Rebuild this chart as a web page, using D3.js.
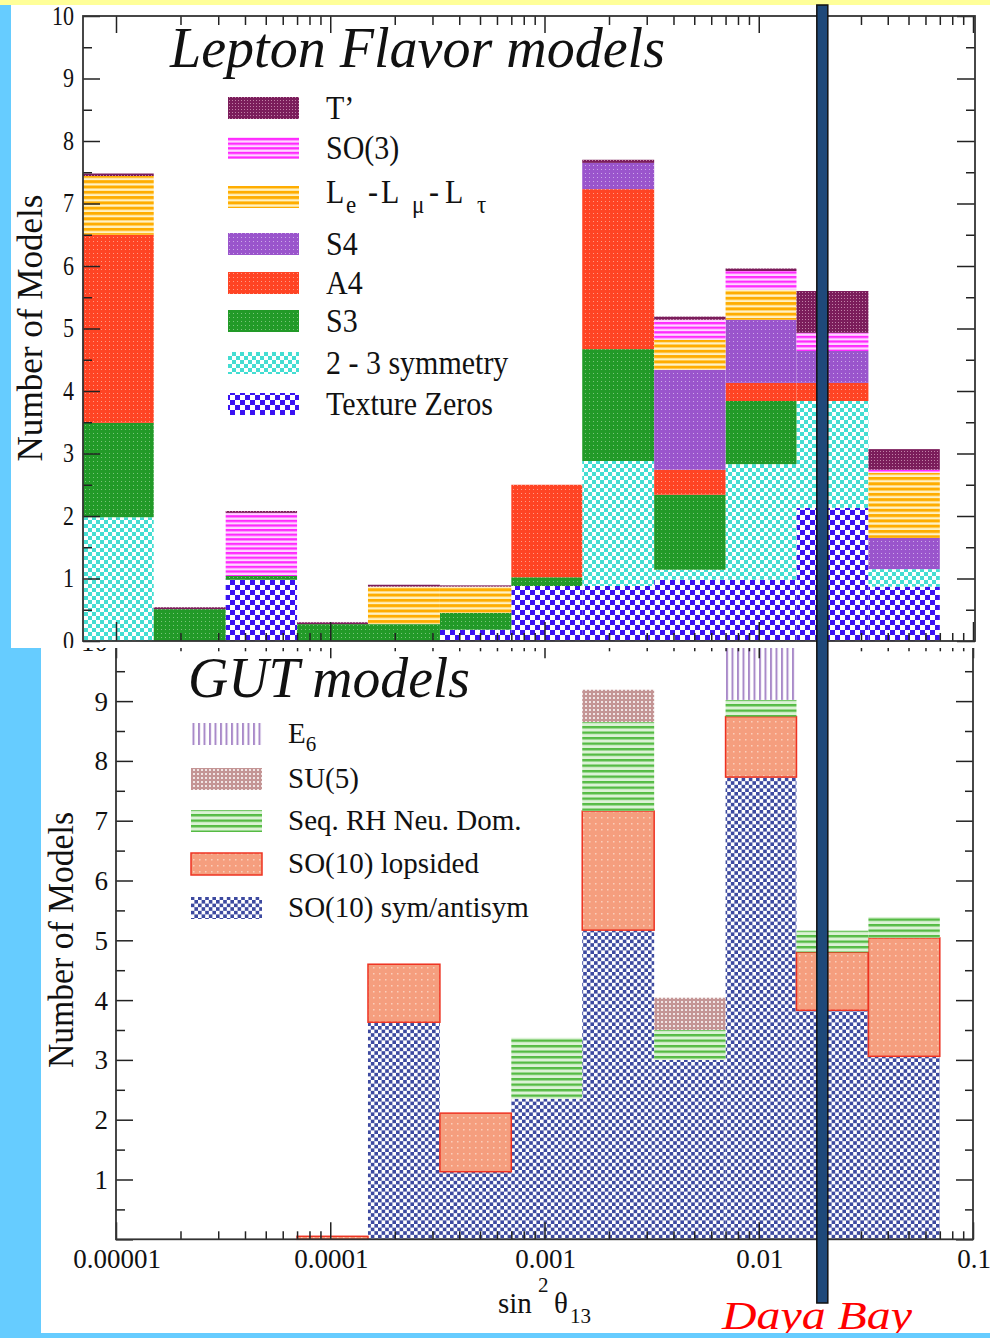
<!DOCTYPE html>
<html>
<head>
<meta charset="utf-8">
<script src="https://cdn.jsdelivr.net/npm/d3@7"></script>
<style>
  body { margin: 0; }
  svg { display: block; }
  text { font-family: "Liberation Serif", "DejaVu Serif", serif; fill: #111; }
</style>
</head>
<body>
<svg id="chart" width="990" height="1338"></svg>
<script>
// histogram bins in sin^2(theta13), a third of a decade each
const binEdges = [7e-6, 1.5e-5, 3.25e-5, 7e-5, 1.5e-4, 3.25e-4, 7e-4, 1.5e-3, 3.25e-3, 7e-3, 1.5e-2, 3.25e-2, 7e-2];

// Lepton flavor models (stacked bottom -> top)
const leptonKeys = ["tz", "sym23", "s3", "a4", "s4", "le", "so3", "tprime"];
const textureZeros = [0, 0, 0.98, 0, 0, 0.18, 0.88, 0.88, 0.98, 0.98, 2.13, 0.87];
const sym23 = [1.98, 0, 0, 0, 0, 0, 0, 2.0, 0.16, 1.85, 1.71, 0.28];
const s3 = [1.51, 0.51, 0.06, 0.27, 0.27, 0.27, 0.14, 1.79, 1.2, 1.01, 0, 0];
const a4 = [3.01, 0, 0, 0, 0, 0, 1.48, 2.56, 0.4, 0.29, 0.29, 0];
const s4 = [0, 0, 0, 0, 0, 0, 0, 0.42, 1.6, 1.01, 0.51, 0.5];
const leLmuLtau = [0.94, 0, 0, 0, 0.6, 0.42, 0, 0, 0.48, 0.48, 0, 1.04];
const so3 = [0, 0, 1.01, 0, 0, 0, 0, 0, 0.32, 0.3, 0.29, 0.05];
const tPrime = [0.04, 0.03, 0.03, 0.03, 0.03, 0.02, 0, 0.05, 0.05, 0.04, 0.67, 0.33];

// GUT models (stacked bottom -> top)
const gutKeys = ["symanti", "lopsided", "seq", "su5", "e6"];
const so10SymAnti = [0, 0, 0, 0, 3.63, 1.13, 2.35, 5.17, 3.0, 7.73, 3.83, 3.06];
const so10Lopsided = [0, 0, 0, 0.05, 0.97, 0.98, 0, 1.99, 0, 1.01, 0.97, 1.98];
const seqRH = [0, 0, 0, 0, 0, 0, 1.02, 1.49, 0.5, 0.28, 0.36, 0.35];
const su5 = [0, 0, 0, 0, 0, 0, 0, 0.54, 0.54, 0, 0, 0];
const e6 = [0, 0, 0, 0, 0, 0, 0, 0, 0, 1.5, 0, 0];

const dayaBay = 0.0198;

const xTickLabels = ["0.00001", "0.0001", "0.001", "0.01", "0.1"];
const xMajor = [1e-5, 1e-4, 1e-3, 1e-2, 1e-1];
const yMajor = [0, 1, 2, 3, 4, 5, 6, 7, 8, 9, 10];
const yMinor = [0.5, 1.5, 2.5, 3.5, 4.5, 5.5, 6.5, 7.5, 8.5, 9.5];

const leptonLegend = ["tprime", "so3", "le", "s4", "a4", "s3", "sym23", "tz"];
const leptonNames = { tprime: "T’", so3: "SO(3)", s4: "S4", a4: "A4", s3: "S3", sym23: "2 - 3 symmetry", tz: "Texture Zeros" };
const gutLegend = ["e6", "su5", "seq", "lopsided", "symanti"];
const gutNames = { su5: "SU(5)", seq: "Seq. RH Neu. Dom.", lopsided: "SO(10) lopsided", symanti: "SO(10) sym/antisym" };

// ---- layout
const svg = d3.select("#chart");
const W = 990, H = 1338;
const topP = { x0: 83, x1: 975, y0: 16, y1: 641 };
const botP = { x0: 116, x1: 973, y0: 641.3, y1: 1239.3 };

const x = d3.scaleLog().domain([1e-5, 1e-1]).range([116, 973]);
const yTop = d3.scaleLinear().domain([0, 10]).range([topP.y1, topP.y0]);
const yBot = d3.scaleLinear().domain([0, 10]).range([botP.y1, botP.y0]);
const xMinor = x.ticks().filter((t) => !xMajor.some((m) => Math.abs(m - t) / m < 1e-6));

// ---- patterns
const defs = svg.append("defs");
const pat = (id, w, h) =>
  defs.append("pattern").attr("id", id).attr("patternUnits", "userSpaceOnUse").attr("width", w).attr("height", h);

function checker(id, c, s) {
  const p = pat(id, 2 * s, 2 * s);
  p.append("rect").attr("width", 2 * s).attr("height", 2 * s).attr("fill", "#fff");
  p.append("rect").attr("width", s).attr("height", s).attr("fill", c);
  p.append("rect").attr("x", s).attr("y", s).attr("width", s).attr("height", s).attr("fill", c);
}
function hstripes(id, c, bg, period, thick) {
  const p = pat(id, 10, period);
  p.append("rect").attr("width", 10).attr("height", period).attr("fill", bg);
  p.append("rect").attr("width", 10).attr("height", thick).attr("fill", c);
}
function vstripes(id, c, period, thick) {
  const p = pat(id, period, 10);
  p.append("rect").attr("width", period).attr("height", 10).attr("fill", "#fff");
  p.append("rect").attr("width", thick).attr("height", 10).attr("fill", c);
}
function dotted(id, c, dot, period, size, op) {
  const p = pat(id, period, period);
  p.append("rect").attr("width", period).attr("height", period).attr("fill", c);
  p.append("rect").attr("x", 1).attr("y", 1).attr("width", size).attr("height", size)
    .attr("fill", dot).attr("opacity", op);
}

checker("p-tz", "#3a12f2", 5);
checker("p-sym23", "#44ddd2", 4);
dotted("p-s3", "#229a28", "#8fd08f", 4, 1, 0.8);
dotted("p-a4", "#ff4424", "#ffb0a0", 4, 1, 0.8);
dotted("p-s4", "#9a55cc", "#d8bdf0", 4, 1, 0.8);
hstripes("p-le", "#ffad00", "#fff2c4", 5.3, 3);
hstripes("p-so3", "#ff2aff", "#ffd8ff", 4.6, 2.3);
dotted("p-tprime", "#7b1d5b", "#c98cb0", 3, 1, 0.9);

checker("p-symanti", "#3d4aa0", 3.6);
dotted("p-lopsided", "#f59e7e", "#fbd4c4", 6, 1.5, 0.9);
hstripes("p-seq", "#55bb44", "#dcf2d6", 5.5, 2.4);
dotted("p-su5", "#c49595", "#ffffff", 4, 2, 0.75);
vstripes("p-e6", "#a98ac9", 5.5, 2);

// ---- backgrounds
svg.append("rect").attr("width", W).attr("height", H).attr("fill", "#66ccff");
svg.append("rect").attr("width", W).attr("height", 5).attr("fill", "#ffff99");
svg.append("rect").attr("x", 11).attr("y", 5).attr("width", W - 11).attr("height", 643).attr("fill", "#fff");

function buildRows(keys, arrays) {
  return binEdges.slice(0, -1).map((lo, i) => {
    const row = { lo, hi: binEdges[i + 1] };
    keys.forEach((k, j) => (row[k] = arrays[j][i]));
    return row;
  });
}

function drawBars(g, keys, rows, y, strokeKey) {
  const stacked = d3.stack().keys(keys)(rows);
  g.selectAll("g.layer")
    .data(stacked)
    .join("g")
    .attr("class", "layer")
    .each(function (layer) {
      d3.select(this)
        .selectAll("rect")
        .data(layer.filter((d) => d[1] - d[0] > 0))
        .join("rect")
        .attr("x", (d) => x(d.data.lo))
        .attr("width", (d) => x(d.data.hi) - x(d.data.lo))
        .attr("y", (d) => y(d[1]))
        .attr("height", (d) => y(d[0]) - y(d[1]))
        .attr("fill", `url(#p-${layer.key})`)
        .attr("stroke", layer.key === strokeKey ? "#ee3322" : "none")
        .attr("stroke-width", 1.5);
    });
}

function drawTicks(g, axisFn, scale, values, size, at) {
  const a = g.append("g").attr("transform", at)
    .call(axisFn(scale).tickValues(values).tickSize(-size).tickSizeOuter(0).tickFormat(""));
  a.select(".domain").remove();
  a.selectAll("line").attr("stroke", "#222").attr("stroke-width", 1.5);
}

function frame(g, p) {
  g.append("rect").attr("x", p.x0).attr("y", p.y0)
    .attr("width", p.x1 - p.x0).attr("height", p.y1 - p.y0)
    .attr("fill", "none").attr("stroke", "#333").attr("stroke-width", 1.8);
}

// ================= top panel: Lepton Flavor models
const gTop = svg.append("g");
const leptonRows = buildRows(leptonKeys, [textureZeros, sym23, s3, a4, s4, leLmuLtau, so3, tPrime]);
drawBars(gTop, leptonKeys, leptonRows, yTop, null);

const xIn = (v) => x(v) >= topP.x0 && x(v) <= topP.x1 - 1;
drawTicks(gTop, d3.axisTop, x, xMajor.filter(xIn), 17, `translate(0,${topP.y0})`);
drawTicks(gTop, d3.axisTop, x, xMinor.filter(xIn), 9, `translate(0,${topP.y0})`);
drawTicks(gTop, d3.axisBottom, x, xMajor.filter(xIn), 19, `translate(0,${topP.y1})`);
drawTicks(gTop, d3.axisBottom, x, xMinor.filter(xIn), 8, `translate(0,${topP.y1})`);
drawTicks(gTop, d3.axisLeft, yTop, yMajor, 17, `translate(${topP.x0},0)`);
drawTicks(gTop, d3.axisLeft, yTop, yMinor, 9, `translate(${topP.x0},0)`);
drawTicks(gTop, d3.axisRight, yTop, yMajor, 18, `translate(${topP.x1},0)`);
drawTicks(gTop, d3.axisRight, yTop, yMinor, 9, `translate(${topP.x1},0)`);
frame(gTop, topP);

gTop.selectAll("text.ylab")
  .data(yMajor)
  .join("text")
  .attr("class", "ylab")
  .attr("transform", (d) => `translate(74,${yTop(d) + 8.5}) scale(1,1.25)`)
  .attr("text-anchor", "end")
  .attr("font-size", 22)
  .text((d) => d);

gTop.append("text")
  .attr("transform", "translate(42,328) rotate(-90)")
  .attr("text-anchor", "middle")
  .attr("font-size", 36)
  .attr("textLength", 267)
  .attr("lengthAdjust", "spacingAndGlyphs")
  .text("Number of Models");

gTop.append("text")
  .attr("x", 170).attr("y", 67)
  .attr("font-size", 56)
  .attr("font-style", "italic")
  .attr("textLength", 495)
  .attr("lengthAdjust", "spacingAndGlyphs")
  .text("Lepton Flavor models");

// legend
const leptonRowTop = [97, 137, 186, 233, 272, 310, 352, 393];
leptonLegend.forEach((k, i) => {
  const yy = leptonRowTop[i];
  gTop.append("rect").attr("x", 228).attr("y", yy).attr("width", 71).attr("height", 22)
    .attr("fill", `url(#p-${k})`);
  const t = gTop.append("text")
    .attr("transform", `translate(326,${yy + 21.5}) scale(1,1.1)`)
    .attr("font-size", 30);
  if (k === "le") {
    const parts = [["L", 0, 0], ["e", 20, 9], ["-", 42, 0], ["L", 55, 0], ["μ", 86, 9], ["-", 103, 0], ["L", 119, 0], ["τ", 151, 9]];
    parts.forEach(([s, dx, dy]) => {
      t.append("tspan").attr("x", dx).attr("y", dy - 4)
        .attr("font-size", dy ? 23 : 30).text(s);
    });
  } else {
    t.text(leptonNames[k]);
  }
});

// ================= bottom panel: GUT models
svg.append("rect").attr("x", 41).attr("y", 648).attr("width", W - 41).attr("height", 685).attr("fill", "#fff");
defs.append("clipPath").attr("id", "clip-bot")
  .append("rect").attr("x", 41).attr("y", 648).attr("width", W - 41).attr("height", 685);
const gBot = svg.append("g").attr("clip-path", "url(#clip-bot)");

const gutRows = buildRows(gutKeys, [so10SymAnti, so10Lopsided, seqRH, su5, e6]);
drawBars(gBot, gutKeys, gutRows, yBot, "lopsided");

drawTicks(gBot, d3.axisTop, x, xMajor, 17, `translate(0,${botP.y0})`);
drawTicks(gBot, d3.axisTop, x, xMinor, 10, `translate(0,${botP.y0})`);
drawTicks(gBot, d3.axisBottom, x, xMajor, 17, `translate(0,${botP.y1})`);
drawTicks(gBot, d3.axisBottom, x, xMinor, 8, `translate(0,${botP.y1})`);
drawTicks(gBot, d3.axisLeft, yBot, yMajor, 17, `translate(${botP.x0},0)`);
drawTicks(gBot, d3.axisLeft, yBot, yMinor, 9, `translate(${botP.x0},0)`);
drawTicks(gBot, d3.axisRight, yBot, yMajor, 17, `translate(${botP.x1},0)`);
drawTicks(gBot, d3.axisRight, yBot, yMinor, 8, `translate(${botP.x1},0)`);
frame(gBot, botP);

gBot.selectAll("text.ylab")
  .data(yMajor.filter((d) => d > 0))
  .join("text")
  .attr("class", "ylab")
  .attr("x", 108)
  .attr("y", (d) => yBot(d) + 9.5)
  .attr("text-anchor", "end")
  .attr("font-size", 27)
  .text((d) => d);

gBot.selectAll("text.xlab")
  .data(xMajor)
  .join("text")
  .attr("class", "xlab")
  .attr("x", (d) => x(d) + 1)
  .attr("y", 1268)
  .attr("text-anchor", "middle")
  .attr("font-size", 27)
  .text((d, i) => xTickLabels[i]);

gBot.append("text")
  .attr("transform", "translate(73,940) rotate(-90)")
  .attr("text-anchor", "middle")
  .attr("font-size", 35)
  .attr("textLength", 256)
  .attr("lengthAdjust", "spacingAndGlyphs")
  .text("Number of Models");

const xl = gBot.append("text").attr("font-size", 29);
xl.append("tspan").attr("x", 498).attr("y", 1313).text("sin");
xl.append("tspan").attr("x", 538).attr("y", 1292).attr("font-size", 21).text("2");
xl.append("tspan").attr("x", 554).attr("y", 1313).text("θ");
xl.append("tspan").attr("x", 570).attr("y", 1323).attr("font-size", 21).text("13");

gBot.append("text")
  .attr("x", 188).attr("y", 697)
  .attr("font-size", 56)
  .attr("font-style", "italic")
  .attr("textLength", 282)
  .attr("lengthAdjust", "spacingAndGlyphs")
  .text("GUT models");

const gutRowTop = [723, 768, 810, 853, 897];
gutLegend.forEach((k, i) => {
  const yy = gutRowTop[i];
  gBot.append("rect").attr("x", 191).attr("y", yy).attr("width", 71).attr("height", 22)
    .attr("fill", `url(#p-${k})`)
    .attr("stroke", k === "lopsided" ? "#ee3322" : "none").attr("stroke-width", 1.5);
  const t = gBot.append("text").attr("x", 288).attr("y", yy + 20).attr("font-size", 29);
  if (k === "e6") {
    t.append("tspan").text("E");
    t.append("tspan").attr("font-size", 21).attr("dy", 8).text("6");
  } else {
    t.text(gutNames[k]);
  }
});

// ================= Daya Bay marker
svg.append("rect")
  .attr("x", x(dayaBay) - 5.5).attr("y", 5)
  .attr("width", 11).attr("height", 1298)
  .attr("fill", "#1f497a").attr("stroke", "#111").attr("stroke-width", 1.5);

svg.append("text")
  .attr("x", 722).attr("y", 1329)
  .attr("font-size", 40)
  .attr("font-style", "italic")
  .attr("textLength", 190)
  .attr("lengthAdjust", "spacingAndGlyphs")
  .style("fill", "#ff0000")
  .text("Daya Bay");

svg.append("rect").attr("x", 0).attr("y", 1333).attr("width", W).attr("height", 5).attr("fill", "#66ccff");
</script>
</body>
</html>
